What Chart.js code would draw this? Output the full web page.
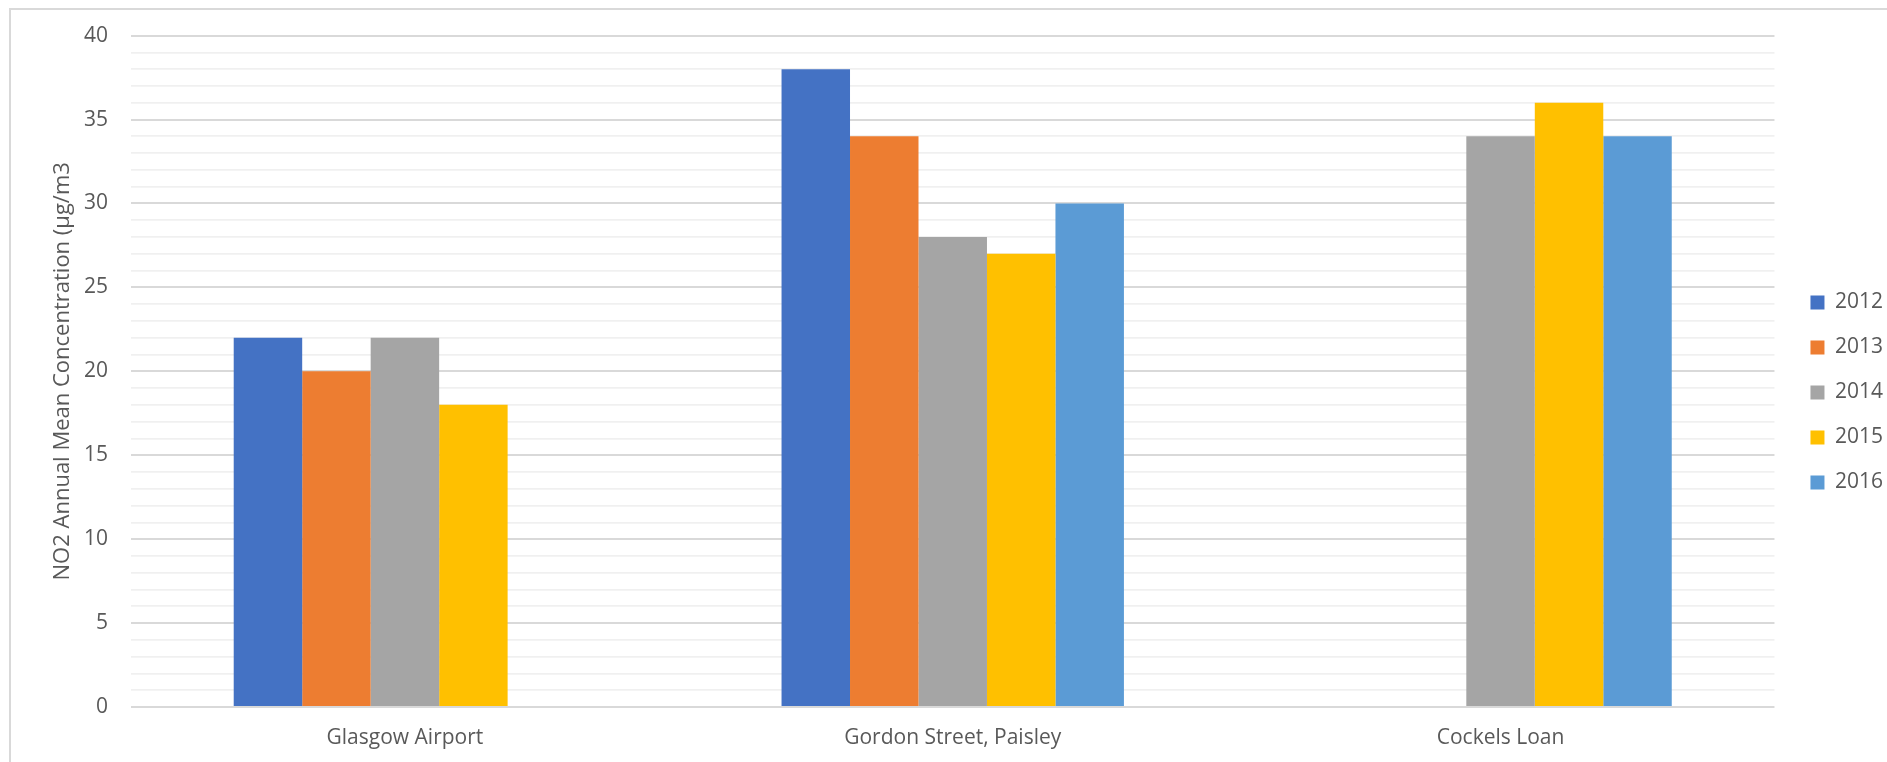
<!DOCTYPE html>
<html>
<head>
<meta charset="utf-8">
<script src="https://cdn.jsdelivr.net/npm/chart.js@4"></script>
<style>
	html, body { margin: 0; padding: 0; background: #fff; overflow: hidden; }
	#frame {
		position: absolute; left: 9px; top: 8px; width: 1920px; height: 800px;
		border: 2px solid #d9d9d9; box-sizing: border-box;
	}
	#wrap { position: absolute; left: 0; top: 0; width: 1887px; height: 762px; }
</style>
</head>
<body>
<div id="frame"></div>
<div id="wrap"><canvas id="no2Chart"></canvas></div>
<script>
const sites = ["Glasgow Airport", "Gordon Street, Paisley", "Cockels Loan"];
const years = ["2012", "2013", "2014", "2015", "2016"];

const no2_2012 = [22, 38, null];
const no2_2013 = [20, 34, null];
const no2_2014 = [22, 28, 34];
const no2_2015 = [18, 27, 36];
const no2_2016 = [null, 30, 34];

const yearColours = ["#4472C4", "#ED7D31", "#A5A5A5", "#FFC000", "#5B9BD5"];

const textColour = "#595959";
const font = { family: "'Open Sans', sans-serif", size: 21 };

// push the legend a bit further away from the plot
const legendOffset = {
	id: "legendOffset",
	afterLayout(chart) {
		chart.legend.left += 12;
		chart.legend.right += 12;
		chart.legend.top += 2;
		chart.legend.bottom += 2;
	}
};

const series = [no2_2012, no2_2013, no2_2014, no2_2015, no2_2016];

new Chart(document.getElementById("no2Chart"), {
	type: "bar",
	data: {
		labels: sites,
		datasets: years.map((year, i) => ({
			label: year,
			data: series[i],
			backgroundColor: yearColours[i],
			borderWidth: 0,
			categoryPercentage: 0.625,
			barPercentage: 1.0,
		})),
	},
	options: {
		responsive: true,
		maintainAspectRatio: false,
		animation: false,
		layout: { padding: { left: 40, right: 6, top: 31, bottom: 12 } },
		plugins: {
			legend: {
				position: "right",
				labels: {
					boxWidth: 14,
					boxHeight: 14,
					padding: 24,
					color: textColour,
					font: font,
				},
			},
			tooltip: { enabled: false },
		},
		scales: {
			x: {
				afterFit: (scale) => { scale.height = 43; },
				grid: { display: false, drawTicks: false },
				border: { display: false },
				ticks: { color: textColour, font: font, padding: 18 },
			},
			y: {
				afterFit: (scale) => { scale.width = 91; },
				min: 0,
				max: 40,
				ticks: {
					stepSize: 1,
					autoSkip: false,
					padding: 23,
					color: textColour,
					font: font,
					callback: (v) => (v % 5 === 0 ? v : ""),
				},
				border: { display: false },
				grid: {
					drawTicks: false,
					color: (ctx) => (ctx.tick && ctx.tick.value % 5 === 0 ? "#d9d9d9" : "#f0f0f0"),
					lineWidth: (ctx) => (ctx.tick && ctx.tick.value % 5 === 0 ? 2 : 1.7),
				},
				title: {
					display: true,
					text: "NO2 Annual Mean Concentration (µg/m3",
					color: textColour,
					font: { family: font.family, size: 22 },
					padding: 10,
				},
			},
		},
	},
	plugins: [legendOffset],
});
</script>
</body>
</html>
